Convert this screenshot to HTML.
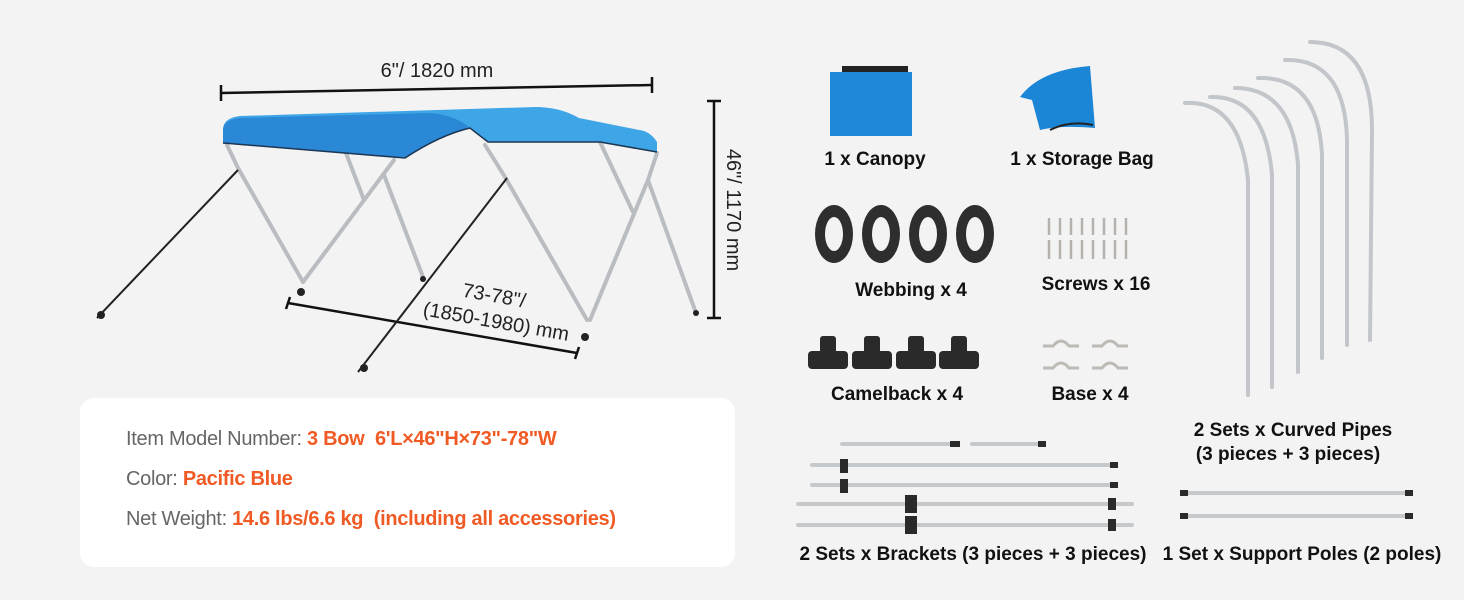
<!DOCTYPE html>
<html><head><meta charset="utf-8"><style>
html,body{margin:0;padding:0;}
body{width:1464px;height:600px;background:#f3f3f3;overflow:hidden;position:relative;font-family:"Liberation Sans",sans-serif;}
svg{position:absolute;left:0;top:0;}
.card{position:absolute;left:80px;top:398px;width:655px;height:169px;background:#fff;border-radius:14px;}
.ln{position:absolute;left:126px;font-size:20px;color:#666;letter-spacing:-0.3px;}
.ln b{color:#f05a24;font-weight:bold;}
.lb{font-family:"Liberation Sans",sans-serif;font-weight:bold;font-size:19px;fill:#111;text-anchor:middle;}
</style></head><body>
<div class="card"></div>
<div class="ln" style="top:428px">Item Model Number: <b>3 Bow&nbsp; 6'L×46"H×73"-78"W</b></div>
<div class="ln" style="top:468px">Color: <b>Pacific Blue</b></div>
<div class="ln" style="top:508px">Net Weight: <b>14.6 lbs/6.6 kg&nbsp; (including all accessories)</b></div>
<svg width="1464" height="600" viewBox="0 0 1464 600">
<!-- dimension lines -->
<g stroke="#111" stroke-width="2.5" fill="none">
<line x1="221" y1="93" x2="652" y2="85"/><line x1="221" y1="85" x2="221" y2="101"/><line x1="652" y1="77" x2="652" y2="93"/>
<line x1="714" y1="101" x2="714" y2="318"/><line x1="707" y1="101" x2="721" y2="101"/><line x1="707" y1="318" x2="721" y2="318"/>
<line x1="288" y1="303" x2="577" y2="353"/><line x1="290" y1="297" x2="286" y2="309"/><line x1="579" y1="347" x2="575" y2="359"/>
</g>
<text x="437" y="77" font-size="20" fill="#222" text-anchor="middle" font-family="Liberation Sans">6"/ 1820 mm</text>
<text transform="translate(727,210) rotate(90)" font-size="20" fill="#222" text-anchor="middle" font-family="Liberation Sans">46"/ 1170 mm</text>
<text transform="translate(493,302) rotate(10)" font-size="20" fill="#222" text-anchor="middle" font-family="Liberation Sans">73-78"/</text>
<text transform="translate(495,328) rotate(10)" font-size="20" fill="#222" text-anchor="middle" font-family="Liberation Sans">(1850-1980) mm</text>
<!-- legs -->
<g stroke="#b9bcc0" stroke-width="4" fill="none" stroke-linecap="round">
<polyline points="227,145 238,168 303,282"/>
<line x1="303" y1="282" x2="394" y2="160"/>
<line x1="336" y1="127" x2="364" y2="200"/>
<line x1="384" y1="175" x2="423" y2="277"/>
<polyline points="485,145 505,177 587,320"/>
<line x1="600" y1="142" x2="633" y2="212"/>
<polyline points="657,153 648,180 590,320"/>
<line x1="648" y1="180" x2="696" y2="313"/>
</g>
<g stroke="#222" stroke-width="2" fill="none">
<line x1="238" y1="170" x2="97" y2="318"/>
<line x1="507" y1="178" x2="358" y2="372"/>
</g>
<g fill="#222"><circle cx="301" cy="292" r="4"/><circle cx="585" cy="337" r="4"/><circle cx="423" cy="279" r="3"/><circle cx="696" cy="313" r="3"/><circle cx="101" cy="315" r="4"/><circle cx="364" cy="368" r="4"/></g>
<!-- canopy -->
<path d="M223,143 L405,158 Q440,135 470,128 L488,142 L600,142 L657,152 L657,142 Q650,131 639,130 L579,118 Q560,107 535,107 L240,116 Q223,118 223,130 Z" fill="#3ea6e6"/>
<path d="M223,143 L405,158 Q440,135 470,128 Q455,115 430,113 L240,118 Q223,120 223,130 Z" fill="#2a88d6"/>
<path d="M223,143 L405,158 Q440,135 470,128 L488,142 L600,142 L657,152" stroke="#1b3552" stroke-width="1.5" fill="none"/>
<!-- right items -->
<rect x="830" y="72" width="82" height="64" fill="#1f88d8"/>
<rect x="842" y="66" width="66" height="6" fill="#222"/>
<path d="M1020,97 Q1040,70 1090,66 L1095,128 Q1060,125 1040,130 L1032,100 Z" fill="#1b85d6"/>
<path d="M1050,130 Q1070,120 1093,125" stroke="#222" stroke-width="2" fill="none"/>
<text class="lb" x="875" y="165">1 x Canopy</text>
<text class="lb" x="1082" y="165">1 x Storage Bag</text>
<g fill="#2e2e2e">
<ellipse cx="834" cy="234" rx="19" ry="29"/><ellipse cx="881" cy="234" rx="19" ry="29"/><ellipse cx="928" cy="234" rx="19" ry="29"/><ellipse cx="975" cy="234" rx="19" ry="29"/>
</g>
<g fill="#f3f3f3"><ellipse cx="834" cy="234" rx="9" ry="17"/><ellipse cx="881" cy="234" rx="9" ry="17"/><ellipse cx="928" cy="234" rx="9" ry="17"/><ellipse cx="975" cy="234" rx="9" ry="17"/></g>
<text class="lb" x="911" y="296">Webbing x 4</text>
<g stroke="#b5b2ad" stroke-width="2.5">
<path d="M1049,218v17M1060,218v17M1071,218v17M1082,218v17M1093,218v17M1104,218v17M1115,218v17M1126,218v17M1049,240v19M1060,240v19M1071,240v19M1082,240v19M1093,240v19M1104,240v19M1115,240v19M1126,240v19"/>
</g>
<text class="lb" x="1096" y="290">Screws x 16</text>
<g fill="#2a2a2a">
<g id="k"><rect x="808" y="351" width="40" height="18" rx="4"/><rect x="820" y="336" width="16" height="18" rx="3"/></g>
<use href="#k" x="44"/><use href="#k" x="88"/><use href="#k" x="131"/>
</g>
<text class="lb" x="897" y="400">Camelback x 4</text>
<g stroke="#bdbab5" stroke-width="3" fill="none">
<path d="M1043,346 h10 q8,-10 16,0 h10"/><path d="M1092,346 h10 q8,-10 16,0 h10"/>
<path d="M1043,368 h10 q8,-10 16,0 h10"/><path d="M1092,368 h10 q8,-10 16,0 h10"/>
</g>
<text class="lb" x="1090" y="400">Base x 4</text>
<!-- curved pipes -->
<g stroke="#c2c5c9" stroke-width="4" fill="none" stroke-linecap="round">
<path d="M1185,103 Q1240,100 1248,180 L1248,395"/>
<path d="M1210,97 Q1265,95 1272,175 L1272,387"/>
<path d="M1235,88 Q1292,88 1298,165 L1298,372"/>
<path d="M1258,78 Q1318,76 1322,155 L1322,358"/>
<path d="M1285,60 Q1345,58 1347,140 L1347,345"/>
<path d="M1310,42 Q1372,42 1372,130 L1370,340"/>
</g>
<text class="lb" x="1293" y="436">2 Sets x Curved Pipes</text>
<text class="lb" x="1288" y="460">(3 pieces + 3 pieces)</text>
<!-- brackets -->
<g stroke="#c6c9cc" stroke-width="4" stroke-linecap="round">
<line x1="842" y1="444" x2="955" y2="444"/><line x1="972" y1="444" x2="1042" y2="444"/>
<line x1="812" y1="465" x2="1115" y2="465"/>
<line x1="812" y1="485" x2="1115" y2="485"/>
<line x1="798" y1="504" x2="1132" y2="504"/>
<line x1="798" y1="525" x2="1132" y2="525"/>
<line x1="1183" y1="493" x2="1410" y2="493"/>
<line x1="1183" y1="516" x2="1410" y2="516"/>
</g>
<g fill="#2a2a2a">
<rect x="840" y="459" width="8" height="14"/><rect x="840" y="479" width="8" height="14"/>
<rect x="905" y="495" width="12" height="18"/><rect x="905" y="516" width="12" height="18"/>
<rect x="950" y="441" width="10" height="6"/><rect x="1038" y="441" width="8" height="6"/>
<rect x="1110" y="462" width="8" height="6"/><rect x="1110" y="482" width="8" height="6"/>
<rect x="1108" y="498" width="8" height="12"/><rect x="1108" y="519" width="8" height="12"/>
<rect x="1180" y="490" width="8" height="6"/><rect x="1405" y="490" width="8" height="6"/>
<rect x="1180" y="513" width="8" height="6"/><rect x="1405" y="513" width="8" height="6"/>
</g>
<text class="lb" x="973" y="560">2 Sets x Brackets (3 pieces + 3 pieces)</text>
<text class="lb" x="1302" y="560">1 Set x Support Poles (2 poles)</text>
</svg>
</body></html>
